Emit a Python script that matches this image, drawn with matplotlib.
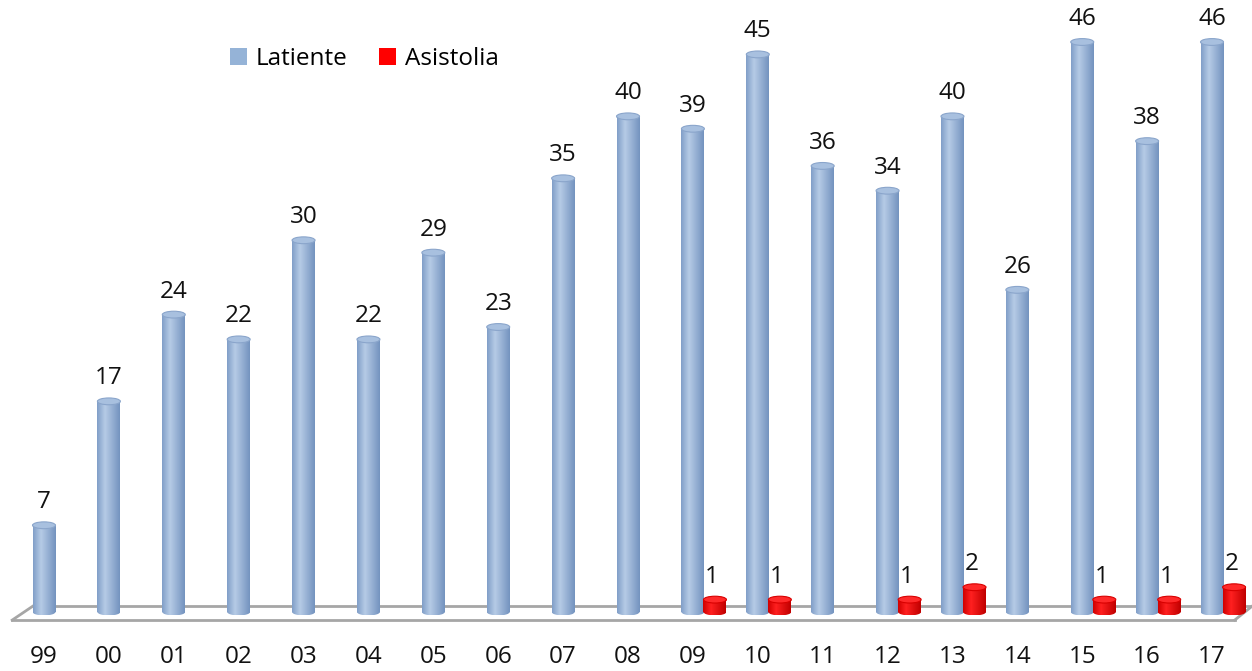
import matplotlib
matplotlib.use('Agg')
import matplotlib.pyplot as plt
import numpy as np
from matplotlib.patches import Ellipse, Patch
from matplotlib.colors import to_rgb

# datos
anios = ['99', '00', '01', '02', '03', '04', '05', '06', '07', '08',
         '09', '10', '11', '12', '13', '14', '15', '16', '17']
latiente = [7, 17, 24, 22, 30, 22, 29, 23, 35, 40, 39, 45, 36, 34, 40, 26, 46, 38, 46]
asistolia = [0, 0, 0, 0, 0, 0, 0, 0, 0, 0, 1, 1, 0, 1, 2, 0, 1, 1, 2]

plt.rcParams['font.family'] = ['Open Sans', 'DejaVu Sans']

fig = plt.figure(figsize=(12.52, 6.71), dpi=100)
ax = fig.add_axes([0, 0, 1, 1])
ax.set_xlim(-0.678, 18.616)
ax.set_ylim(-4.76, 49.39)
ax.axis('off')

x = np.arange(len(anios))
w = 0.354
off = 0.34
eh = 0.55
fs = 17.5


def gradiente(c_borde_izq, c_luz, c_borde_der, n=64):
    a, b, c = np.array(to_rgb(c_borde_izq)), np.array(to_rgb(c_luz)), np.array(to_rgb(c_borde_der))
    t = np.linspace(0, 1, n)
    out = np.zeros((1, n, 3))
    for i, ti in enumerate(t):
        if ti < 0.35:
            out[0, i] = a + (b - a) * (ti / 0.35)
        else:
            out[0, i] = b + (c - b) * ((ti - 0.35) / 0.65)
    return out


grad_azul = gradiente('#819fc8', '#b6cbe6', '#7493bf')
grad_rojo = gradiente('#d00000', '#ff2020', '#c00000')


def cilindros(xs, vals, grad, tapa, borde):
    bars = ax.bar(xs, vals, width=w, color='none', zorder=3)
    for b, xv, v in zip(bars, xs, vals):
        if v <= 0:
            continue
        x0 = xv - w / 2
        im = ax.imshow(grad, extent=[x0, x0 + w, -eh / 2, v], aspect='auto', zorder=3)
        im.set_clip_path(b)
        fondo = Ellipse((xv, 0), w, eh, facecolor='none', edgecolor='none', zorder=3)
        ax.add_patch(fondo)
        im2 = ax.imshow(grad, extent=[x0, x0 + w, -eh / 2, eh / 2], aspect='auto', zorder=3)
        im2.set_clip_path(fondo)
        ax.add_patch(Ellipse((xv, v), w, eh, facecolor=tapa, edgecolor=borde, lw=0.8, zorder=4))
    return bars


# suelo
gris = '#a6a6a6'
ax.plot([-0.17, 18.62], [0.48, 0.48], color=gris, lw=2, zorder=1)
ax.plot([-0.49, 18.35], [-0.65, -0.65], color=gris, lw=2, zorder=1)
ax.plot([-0.49, -0.17], [-0.65, 0.48], color=gris, lw=2, zorder=1)
ax.plot([18.35, 18.62], [-0.65, 0.48], color=gris, lw=2, zorder=1)

cilindros(x, latiente, grad_azul, '#a8c0df', '#8aa5cb')
xr = x + off
cilindros(xr, asistolia, grad_rojo, '#ff2a2a', '#d80000')

for xv, v in zip(x, latiente):
    ax.annotate(str(v), (xv, v), xytext=(0, 8), textcoords='offset points',
                ha='center', va='bottom', fontsize=fs, color='#111111')
for xv, v in zip(xr, asistolia):
    if v > 0:
        ax.annotate(str(v), (xv, v), xytext=(-2, 8), textcoords='offset points',
                    ha='center', va='bottom', fontsize=fs, color='#111111')

for xv, lab in zip(x, anios):
    ax.text(xv, -3.6, lab, ha='center', va='center', fontsize=fs, color='#111111')

handles = [Patch(facecolor='#95b3d7', label='Latiente'),
           Patch(facecolor='#ff0000', label='Asistolia')]
ax.legend(handles=handles, loc='upper left', bbox_to_anchor=(0.184, 0.93), ncol=2,
          frameon=False, fontsize=fs, handlelength=0.7, handleheight=0.7,
          handletextpad=0.35, columnspacing=1.3, borderpad=0, borderaxespad=0)

fig.savefig('out.png', dpi=100)
